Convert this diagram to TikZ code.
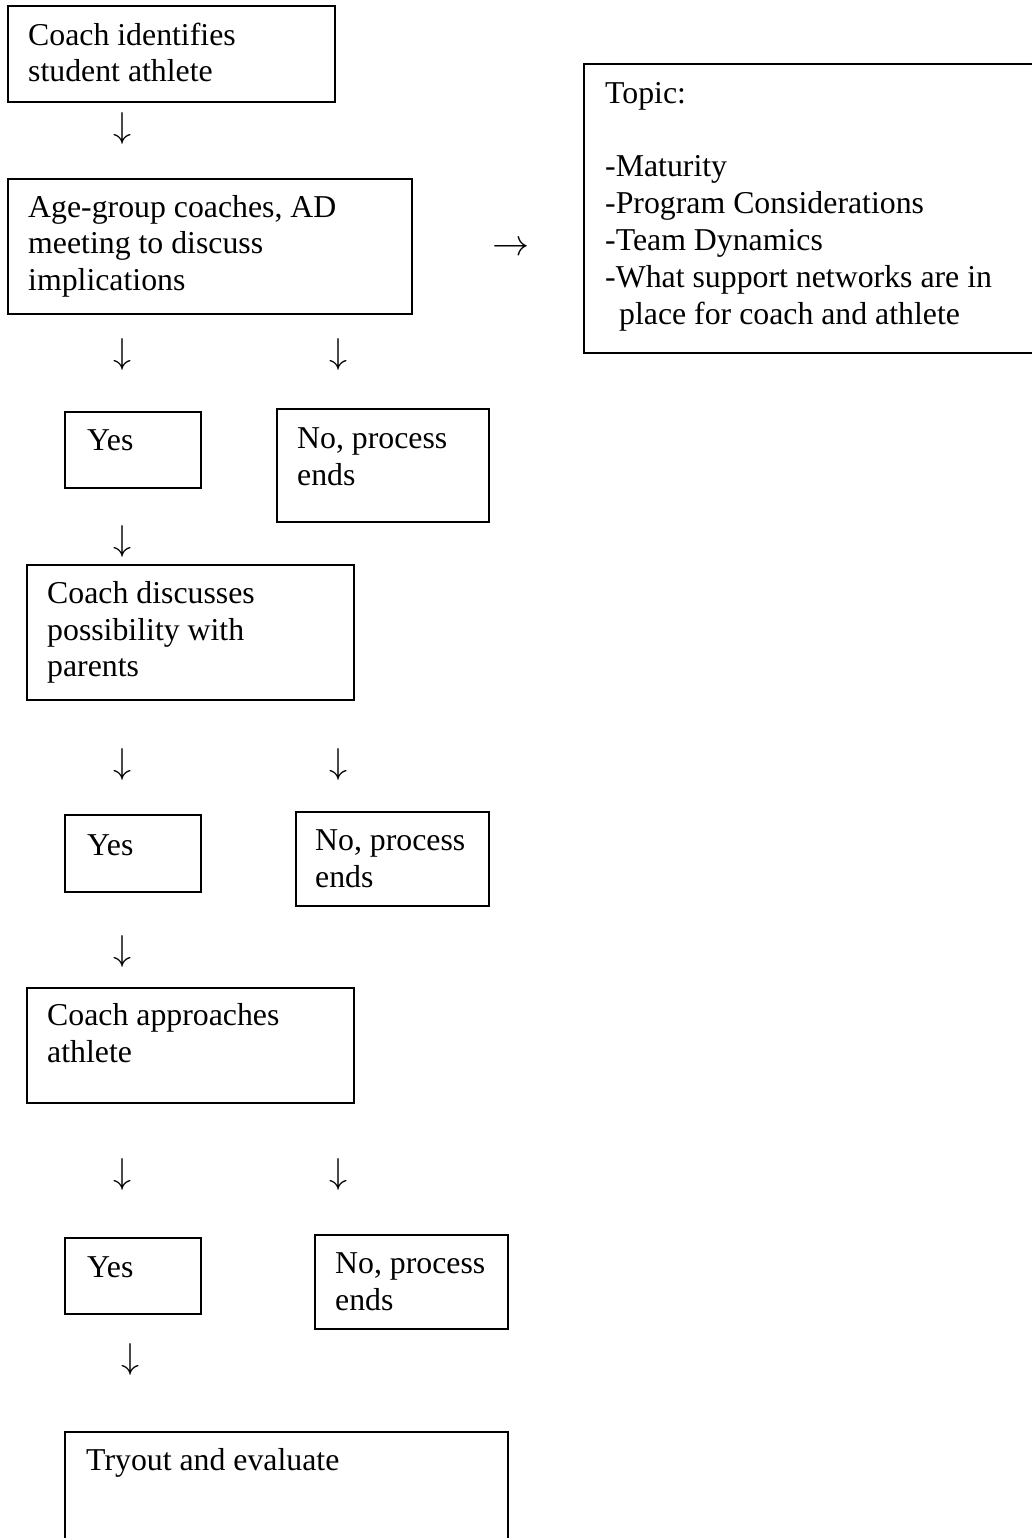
\RequirePackage{fix-cm}
\documentclass[tikz,border=0pt]{standalone}
\usepackage{fontspec}
\setmainfont{Liberation Serif}
\newcommand{\fstrut}{\rule{0pt}{30pt}}
\begin{document}
\begin{tikzpicture}[x=1pt,y=-1pt,
  box/.style={draw, line width=1.8pt, inner sep=0pt, anchor=north west},
  txt/.style={inner sep=0pt, anchor=north west, align=left,
    font=\fontsize{31.8pt}{36.8pt}\selectfont},
  glyph/.style={inner sep=0pt, anchor=center,
    font=\fontsize{36pt}{42pt}\selectfont},
  rglyph/.style={inner sep=0pt, anchor=center,
    font=\fontsize{37pt}{42pt}\selectfont}]
\useasboundingbox (0,0) rectangle (1032,1538);
\clip (0,0) rectangle (1032,1538);
% boxes
\node[box, minimum width=327pt, minimum height=96pt] (b1) at (7,5) {};
\node[txt] (t1) at (28,15) {\fstrut Coach identifies\\student athlete};
\node[glyph] (a1) at (122,129) {$\downarrow$};
\node[box, minimum width=404pt, minimum height=135pt] (b2) at (7,178) {};
\node[txt] (t2) at (28,187) {\fstrut Age-group coaches, AD\\meeting to discuss\\implications};
\node[rglyph] (ar) at (511,249) {$\rightarrow$};
\node[box, minimum width=600pt, minimum height=289pt] (bt) at (583,63) {};
\node[txt] (tt) at (605,73) {\fstrut Topic:\\\mbox{}\\-Maturity\\-Program Considerations\\-Team Dynamics\\-What support networks are in\\\hspace*{14pt}place for coach and athlete};
% row 1
\node[glyph] (a2) at (122,354) {$\downarrow$};
\node[glyph] (a3) at (338,354) {$\downarrow$};
\node[box, minimum width=136pt, minimum height=76pt] (y1) at (64,411) {};
\node[txt] (ty1) at (87,420) {\fstrut Yes};
\node[box, minimum width=212pt, minimum height=113pt] (n1) at (276,408) {};
\node[txt] (tn1) at (297,418) {\fstrut No, process\\ends};
\node[glyph] (a4) at (122,541) {$\downarrow$};
\node[box, minimum width=327pt, minimum height=135pt] (c2) at (26,564) {};
\node[txt] (tc2) at (47,573) {\fstrut Coach discusses\\possibility with\\parents};
% row 2
\node[glyph] (a5) at (122,764) {$\downarrow$};
\node[glyph] (a6) at (338,764) {$\downarrow$};
\node[box, minimum width=136pt, minimum height=77pt] (y2) at (64,814) {};
\node[txt] (ty2) at (87,825) {\fstrut Yes};
\node[box, minimum width=193pt, minimum height=94pt] (n2) at (295,811) {};
\node[txt] (tn2) at (315,820) {\fstrut No, process\\ends};
\node[glyph] (a7) at (122,951) {$\downarrow$};
\node[box, minimum width=327pt, minimum height=115pt] (c3) at (26,987) {};
\node[txt] (tc3) at (47,995) {\fstrut Coach approaches\\athlete};
% row 3
\node[glyph] (a8) at (122,1174) {$\downarrow$};
\node[glyph] (a9) at (338,1174) {$\downarrow$};
\node[box, minimum width=136pt, minimum height=76pt] (y3) at (64,1237) {};
\node[txt] (ty3) at (87,1247) {\fstrut Yes};
\node[box, minimum width=193pt, minimum height=94pt] (n3) at (314,1234) {};
\node[txt] (tn3) at (335,1243) {\fstrut No, process\\ends};
\node[glyph] (a10) at (130,1359) {$\downarrow$};
\node[box, minimum width=443pt, minimum height=200pt] (bt2) at (64,1431) {};
\node[txt] (tt2) at (86,1440) {\fstrut Tryout and evaluate};
\end{tikzpicture}
\end{document}
